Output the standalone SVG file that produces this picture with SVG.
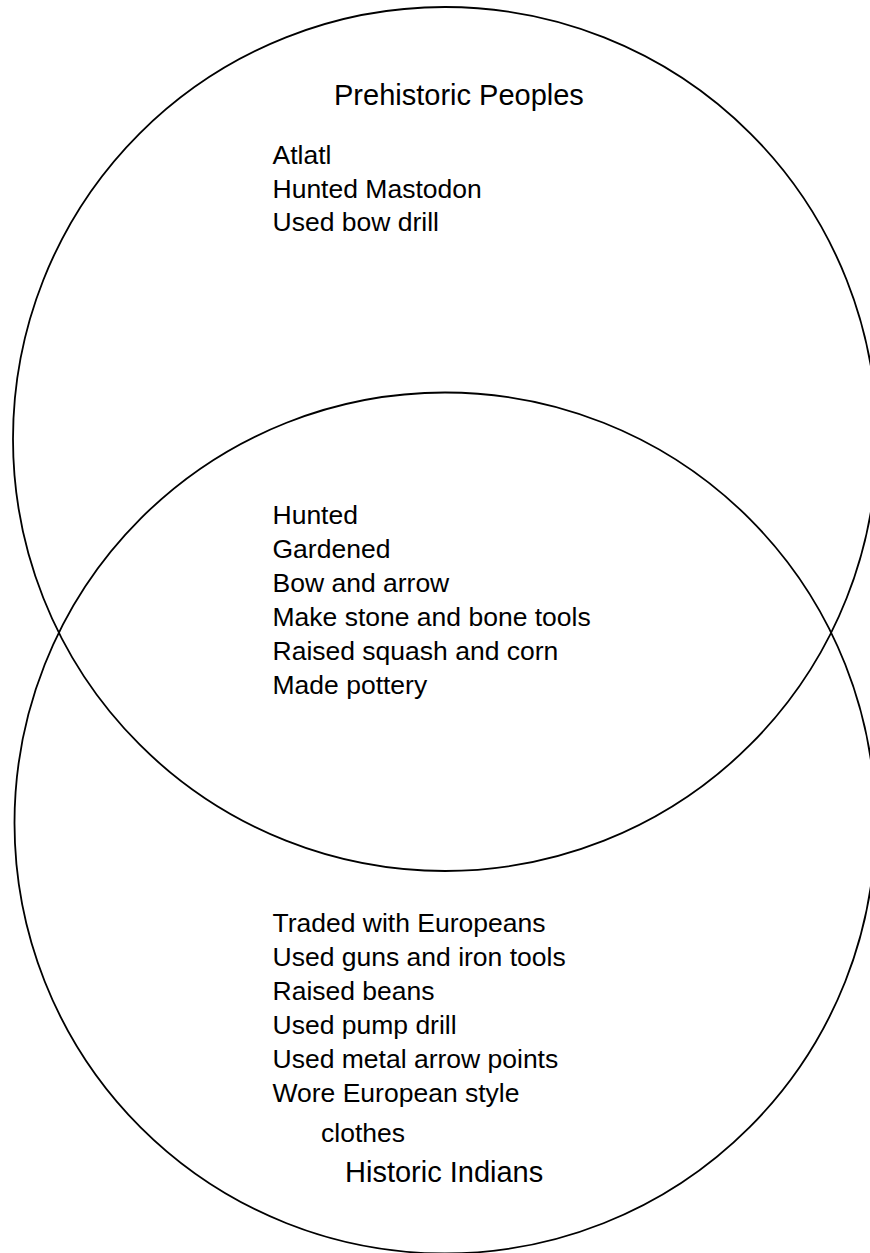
<svg xmlns="http://www.w3.org/2000/svg" width="870" height="1253" viewBox="0 0 870 1253">
<style>
.c{fill:none;stroke:#000;stroke-width:1.8}
.t{font-family:"Liberation Sans",Arial,sans-serif;font-size:26.5px;fill:#000}
.h{font-family:"Liberation Sans",Arial,sans-serif;font-size:29px;fill:#000}
</style>
<rect width="870" height="1253" fill="#fff"/>
<g id="prehistoric">
<circle class="c" cx="445" cy="439" r="432"/>
<text class="h" x="334" y="105">Prehistoric Peoples</text>
<text class="t" x="272.5" y="163.5">Atlatl</text>
<text class="t" x="272.5" y="197.5">Hunted Mastodon</text>
<text class="t" x="272.5" y="231">Used bow drill</text>
</g>
<g id="historic">
<circle class="c" cx="445" cy="823" r="430.5"/>
<text class="t" x="272.5" y="932">Traded with Europeans</text>
<text class="t" x="272.5" y="966">Used guns and iron tools</text>
<text class="t" x="272.5" y="1000">Raised beans</text>
<text class="t" x="272.5" y="1034">Used pump drill</text>
<text class="t" x="272.5" y="1068">Used metal arrow points</text>
<text class="t" x="272.5" y="1102">Wore European style</text>
<text class="t" x="321" y="1142">clothes</text>
<text class="h" x="345" y="1182">Historic Indians</text>
</g>
<g id="both">
<text class="t" x="272.5" y="523.5">Hunted</text>
<text class="t" x="272.5" y="557.5">Gardened</text>
<text class="t" x="272.5" y="591.5">Bow and arrow</text>
<text class="t" x="272.5" y="625.5">Make stone and bone tools</text>
<text class="t" x="272.5" y="659.5">Raised squash and corn</text>
<text class="t" x="272.5" y="693.5">Made pottery</text>
</g>
</svg>
